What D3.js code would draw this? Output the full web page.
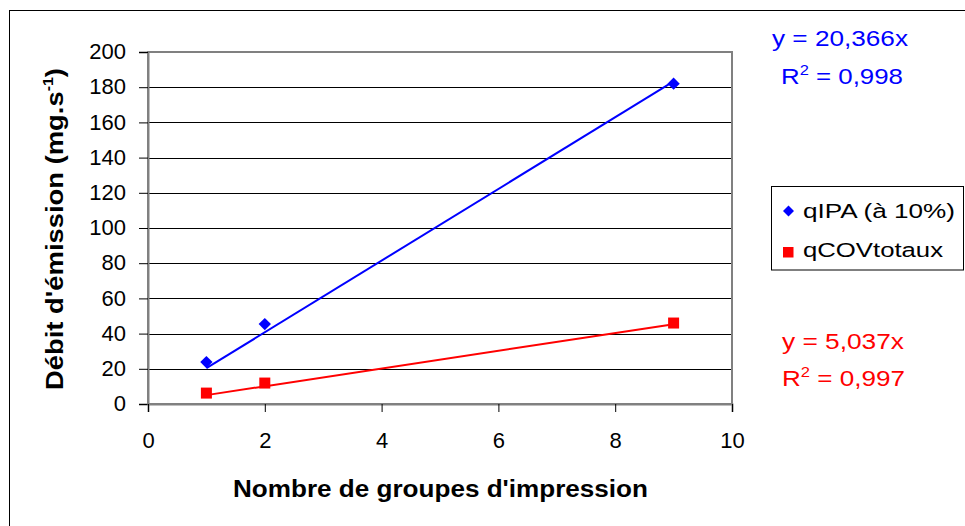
<!DOCTYPE html>
<html>
<head>
<meta charset="utf-8">
<script src="https://cdn.jsdelivr.net/npm/d3@7"></script>
<style>
  html, body { margin: 0; padding: 0; background: #fff; }
  svg { display: block; font-family: "Liberation Sans", Arial, sans-serif; }
</style>
</head>
<body>
<svg id="chart" width="965" height="526"></svg>
<script>
// ---- data ----
const xValues = [1, 2, 9];
const qIPA = [23.8, 45.4, 182];
const qCOV = [6.2, 11.9, 46];
const seriesNames = ["qIPA (à 10%)", "qCOVtotaux"];
const trendSlopes = [20.366, 5.037];
const trendR2 = ["0,998", "0,997"];
const trendEq = ["20,366", "5,037"];
const xTicks = [0, 2, 4, 6, 8, 10];
const yTicks = [0, 20, 40, 60, 80, 100, 120, 140, 160, 180, 200];
const colors = ["#0000FF", "#FF0000"];

(function () {
const svg = d3.select("#chart");
const pL = 148, pR = 732, pT = 52, pB = 404;
const x = d3.scaleLinear().domain([0, 10]).range([pL, pR]);
const y = d3.scaleLinear().domain([0, 200]).range([pB, pT]);

// outer frame
svg.append("rect").attr("x", 9.5).attr("y", 10.5).attr("width", 1000).attr("height", 1000)
  .attr("fill", "none").attr("stroke", "#000").attr("stroke-width", 1);

// gridlines
svg.append("g").selectAll("line").data(yTicks.filter(d => d > 0 && d < 200)).join("line")
  .attr("x1", pL).attr("x2", pR)
  .attr("y1", d => Math.round(y(d)) + 0.5).attr("y2", d => Math.round(y(d)) + 0.5)
  .attr("stroke", "#000").attr("stroke-width", 1);

// plot area border
svg.append("rect").attr("x", pL).attr("y", pT).attr("width", pR - pL).attr("height", pB - pT)
  .attr("fill", "none").attr("stroke", "#808080").attr("stroke-width", 2);

// axes
const yAxis = d3.axisLeft(y).tickValues(yTicks).tickSize(9).tickPadding(13).tickFormat(d3.format("d"));
const gy = svg.append("g").attr("transform", `translate(${pL},0)`).call(yAxis);
gy.select(".domain").attr("stroke", "#808080").attr("stroke-width", 2);
gy.selectAll(".tick line").attr("stroke", "#000");
gy.selectAll("text").attr("font-size", 22).attr("fill", "#000").attr("font-family", "Liberation Sans, Arial, sans-serif").attr("dy", "0.3em");

const xAxis = d3.axisBottom(x).tickValues(xTicks).tickSize(8).tickPadding(20).tickFormat(d3.format("d"));
const gx = svg.append("g").attr("transform", `translate(0,${pB})`).call(xAxis);
gx.select(".domain").attr("stroke", "#808080").attr("stroke-width", 2);
gx.selectAll(".tick line").attr("stroke", "#000");
gx.selectAll("text").attr("font-size", 22).attr("fill", "#000").attr("font-family", "Liberation Sans, Arial, sans-serif");

// trend lines
[0, 1].forEach(i => {
  svg.append("line")
    .attr("x1", x(xValues[0])).attr("y1", y(trendSlopes[i] * xValues[0]))
    .attr("x2", x(xValues[2])).attr("y2", y(trendSlopes[i] * xValues[2]))
    .attr("stroke", colors[i]).attr("stroke-width", 2);
});

// markers
svg.append("g").selectAll("path").data(xValues.map((d, i) => [d, qIPA[i]])).join("path")
  .attr("d", d3.symbol(d3.symbolSquare, 76)())
  .attr("transform", d => `translate(${x(d[0])},${y(d[1])}) rotate(45)`)
  .attr("fill", colors[0]);
svg.append("g").selectAll("rect").data(xValues.map((d, i) => [d, qCOV[i]])).join("rect")
  .attr("x", d => x(d[0]) - 5.5).attr("y", d => y(d[1]) - 5.5)
  .attr("width", 11).attr("height", 11)
  .attr("fill", colors[1]);

// axis titles
svg.append("text").attr("x", 233).attr("y", 497)
  .attr("font-size", 23).attr("font-weight", "bold").attr("fill", "#000")
  .attr("textLength", 415).attr("lengthAdjust", "spacingAndGlyphs")
  .text("Nombre de groupes d'impression");

const yt = svg.append("text").attr("transform", "translate(63,390) rotate(-90)")
  .attr("font-size", 24).attr("font-weight", "bold").attr("fill", "#000")
  .attr("textLength", 322).attr("lengthAdjust", "spacingAndGlyphs");
yt.append("tspan").text("Débit d'émission (mg.s");
yt.append("tspan").attr("dy", -10).attr("font-size", 14).text("-1");
yt.append("tspan").attr("dy", 10).text(")");

// legend
svg.append("rect").attr("x", 771.5).attr("y", 186.5).attr("width", 192).attr("height", 83.5)
  .attr("fill", "#fff").attr("stroke", "#000").attr("stroke-width", 1);
svg.append("path").attr("d", d3.symbol(d3.symbolSquare, 60)())
  .attr("transform", "translate(788.5,211) rotate(45)").attr("fill", colors[0]);
svg.append("rect").attr("x", 783).attr("y", 247).attr("width", 10.5).attr("height", 10.5).attr("fill", colors[1]);
svg.append("text").attr("x", 803).attr("y", 217.5).attr("font-size", 20.5).attr("fill", "#000")
  .attr("textLength", 152).attr("lengthAdjust", "spacingAndGlyphs").text(seriesNames[0]);
svg.append("text").attr("x", 803).attr("y", 257).attr("font-size", 20.5).attr("fill", "#000")
  .attr("textLength", 140).attr("lengthAdjust", "spacingAndGlyphs").text(seriesNames[1]);

// equations
function eq(i, x0, yb, w1, x1, yb2, w2) {
  svg.append("text").attr("x", x0).attr("y", yb).attr("font-size", 22).attr("fill", colors[i])
    .attr("textLength", w1).attr("lengthAdjust", "spacingAndGlyphs")
    .text(`y = ${trendEq[i]}x`);
  const t = svg.append("text").attr("x", x1).attr("y", yb2).attr("font-size", 22).attr("fill", colors[i])
    .attr("textLength", w2).attr("lengthAdjust", "spacingAndGlyphs");
  t.append("tspan").text("R");
  t.append("tspan").attr("dy", -9).attr("font-size", 14).text("2");
  t.append("tspan").attr("dy", 9).text(` = ${trendR2[i]}`);
}
eq(0, 772, 46, 136, 781, 83.5, 122);
eq(1, 782, 348.5, 122, 782, 385.5, 123);
})();
</script>
</body>
</html>
